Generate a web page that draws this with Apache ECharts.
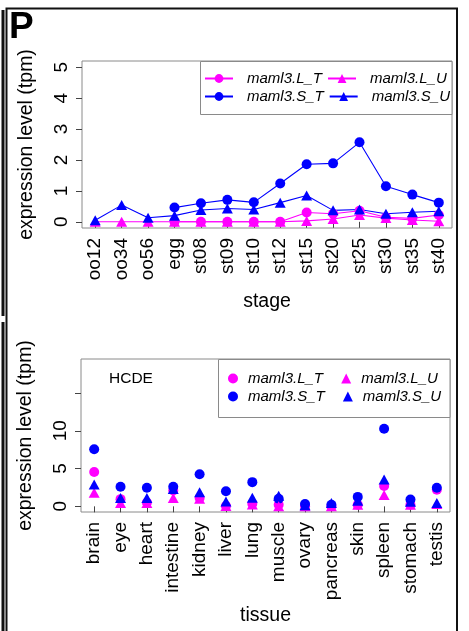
<!DOCTYPE html>
<html>
<head>
<meta charset="utf-8">
<script src="https://cdn.jsdelivr.net/npm/echarts@6/dist/echarts.min.js"></script>
<style>
  html, body { margin: 0; padding: 0; background: #fff; }
  #chart { width: 469px; height: 631px; }
</style>
</head>
<body>
<div id="chart"></div>
<script>
// ---- developmental stages (upper panel) ----
const stages = ['oo12','oo34','oo56','egg','st08','st09','st10','st12','st15','st20','st25','st30','st35','st40'];
const stageLT = [null,null,null,0,0,0,0,0,0.30,0.26,0.36,0.15,0.11,0.22];
const stageST = [null,null,null,0.46,0.60,0.71,0.63,1.24,1.86,1.89,2.57,1.15,0.88,0.62];
const stageLU = [0,0,0,0,0,0,0,0,0.03,0.09,0.22,0.12,0.06,0.02];
const stageSU = [0.05,0.54,0.13,0.20,0.38,0.43,0.40,0.62,0.85,0.37,0.40,0.26,0.31,0.34];
const stageTicks = [0,1,2,3,4,5];

// ---- adult tissues (lower panel, HCDE) ----
const tissues = ['brain','eye','heart','intestine','kidney','liver','lung','muscle','ovary','pancreas','skin','spleen','stomach','testis'];
const tissueLT = [4.55,0.95,0.5,2.1,1.1,0.05,0.35,0.2,0,0,0.2,2.7,0.2,2.2];
const tissueST = [7.55,2.6,2.45,2.6,4.25,2.0,3.2,1.0,0.3,0.2,1.25,10.27,0.9,2.45];
const tissueLU = [1.8,0.45,0.45,1.1,1.0,0.05,0.25,0,0,0,0.2,1.5,0.2,0.3];
const tissueSU = [2.9,1.1,1.1,2.3,1.85,0.65,1.15,1.4,0.15,0.45,0.75,3.55,0.6,0.45];
const tissueTicks = [0,5,10,15];
const tissueLabels = [0,5,10];

const names = ['maml3.L_T','maml3.S_T','maml3.L_U','maml3.S_U'];
const MAG = '#ff00ff', BLUE = '#0000ff';
const FONT = '"Liberation Sans", Arial, Helvetica, sans-serif';

const chart = echarts.init(document.getElementById('chart'), null, { renderer: 'canvas' });

function xAxisFor(gridIndex, cats, title, gap) {
  return {
    type: 'category', gridIndex, data: cats, boundaryGap: true,
    name: title, nameLocation: 'middle', nameGap: gap,
    nameTextStyle: { fontFamily: FONT, fontSize: 19.5, color: '#000' },
    axisLine: { show: false },
    axisTick: { show: true, alignWithLabel: true, length: 6, lineStyle: { color: '#444' } },
    axisLabel: { rotate: 90, margin: 10, fontFamily: FONT, fontSize: 19, color: '#000' },
    splitLine: { show: false }
  };
}
function yAxisFor(gridIndex, min, max, ticks, labels) {
  return {
    type: 'value', gridIndex, min, max,
    name: 'expression level (tpm)', nameLocation: 'middle', nameGap: 45,
    nameTextStyle: { fontFamily: FONT, fontSize: 19.5, color: '#000' },
    axisLine: { show: false },
    axisTick: { show: true, length: 6, customValues: ticks, lineStyle: { color: '#444' } },
    axisLabel: { rotate: 90, margin: 11, customValues: labels, fontFamily: FONT, fontSize: 19, color: '#000' },
    splitLine: { show: false }
  };
}
function lineSeries(name, data, color, symbol) {
  return {
    name, type: 'line', xAxisIndex: 0, yAxisIndex: 0, data,
    symbol, symbolSize: symbol === 'circle' ? 10 : [11, 10],
    connectNulls: false,
    lineStyle: { color, width: 1.1 },
    itemStyle: { color, opacity: 1 },
    emphasis: { disabled: true }, animation: false
  };
}
function pointSeries(name, data, color, symbol) {
  return {
    name: name, type: 'scatter', xAxisIndex: 1, yAxisIndex: 1, data,
    symbol, symbolSize: symbol === 'circle' ? 10 : [11, 10],
    itemStyle: { color, opacity: 1 },
    emphasis: { disabled: true }, animation: false
  };
}
function legendRow(opts) {
  return Object.assign({
    orient: 'horizontal', padding: 0, selectedMode: false
  }, opts);
}
const legendText = (w, pad) => ({ fontFamily: FONT, fontSize: 15, fontStyle: 'italic', color: '#000', width: w, padding: [0, 0, 0, pad] });

const option = {
  animation: false,
  backgroundColor: '#fff',
  grid: [
    { left: 82, right: 17, top: 61, bottom: 403, show: true, borderColor: '#8a8a8a', borderWidth: 1, backgroundColor: 'transparent' },
    { left: 81, right: 19, top: 359, bottom: 119, show: true, borderColor: '#8a8a8a', borderWidth: 1, backgroundColor: 'transparent' }
  ],
  xAxis: [
    xAxisFor(0, stages, 'stage', 64),
    xAxisFor(1, tissues, 'tissue', 94)
  ],
  yAxis: [
    yAxisFor(0, -0.2, 5.2, stageTicks, stageTicks),
    yAxisFor(1, -0.75, 19.5, tissueTicks, tissueLabels)
  ],
  legend: [
    legendRow({ left: 204, top: 71, itemWidth: 28, itemHeight: 11, itemGap: 5,
      data: [names[0], names[2]].map(n => ({ name: n })), textStyle: legendText(75, 9) }),
    legendRow({ left: 204, top: 89, itemWidth: 28, itemHeight: 11, itemGap: 5,
      data: [names[1], names[3]].map(n => ({ name: n })), textStyle: legendText(75, 9) }),
    legendRow({ left: 228, top: 371, itemWidth: 10, itemHeight: 10, itemGap: 14,
      data: [names[0] + ' ', names[2] + ' '].map(n => ({ name: n, itemStyle: { opacity: 1 } })), textStyle: legendText(80, 5) }),
    legendRow({ left: 228, top: 389, itemWidth: 10, itemHeight: 10, itemGap: 14,
      data: [names[1] + ' ', names[3] + ' '].map(n => ({ name: n, itemStyle: { opacity: 1 } })), textStyle: legendText(80, 5) })
  ],
  graphic: [
    // legend frames
    { type: 'rect', z: 3, shape: { x: 200.5, y: 61.5, width: 251.5, height: 53 },
      style: { fill: '#fff', stroke: '#8a8a8a', lineWidth: 1 } },
    { type: 'rect', z: 3, shape: { x: 218.5, y: 359.5, width: 231.5, height: 58 },
      style: { fill: '#fff', stroke: '#8a8a8a', lineWidth: 1 } },
    // panel annotations
    { type: 'text', z: 5, left: 109, top: 371,
      style: { text: 'HCDE', fontFamily: FONT, fontSize: 15.5, fill: '#000' } },
    { type: 'text', z: 5, left: 9, top: 9,
      style: { text: 'P', fontFamily: FONT, fontSize: 37, fontWeight: 'bold', fill: '#000' } },
    // figure frame
    { type: 'polyline', z: 6, shape: { points: [[6.5, 631], [6.5, 8.5], [457, 8.5], [457, 631]] },
      style: { fill: null, stroke: '#111', lineWidth: 2 } },
    { type: 'line', z: 6, shape: { x1: 3, y1: 10, x2: 3, y2: 316 }, style: { stroke: '#111', lineWidth: 3 } },
    { type: 'line', z: 6, shape: { x1: 3, y1: 322, x2: 3, y2: 631 }, style: { stroke: '#111', lineWidth: 3 } }
  ],
  series: [
    lineSeries(names[0], stageLT, MAG, 'circle'),
    lineSeries(names[1], stageST, BLUE, 'circle'),
    lineSeries(names[2], stageLU, MAG, 'triangle'),
    lineSeries(names[3], stageSU, BLUE, 'triangle'),
    pointSeries(names[0] + ' ', tissueLT, MAG, 'circle'),
    pointSeries(names[1] + ' ', tissueST, BLUE, 'circle'),
    pointSeries(names[2] + ' ', tissueLU, MAG, 'triangle'),
    pointSeries(names[3] + ' ', tissueSU, BLUE, 'triangle')
  ]
};
chart.setOption(option);
</script>
</body>
</html>
